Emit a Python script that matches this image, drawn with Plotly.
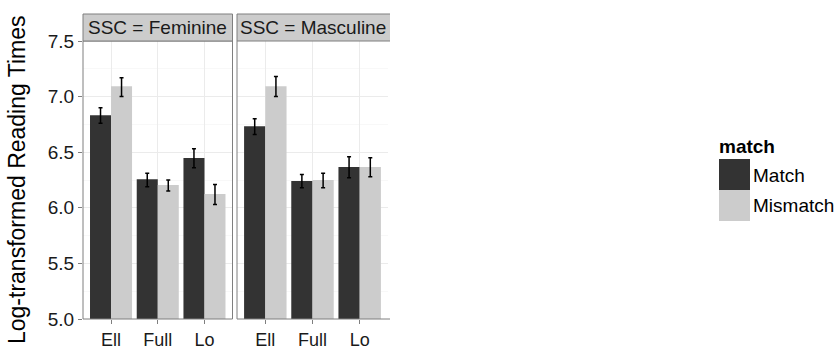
import plotly.graph_objects as go

# ---- data ----
conditions = ["Ell", "Full", "Lo"]
panels = ["SSC = Feminine", "SSC = Masculine"]
match_levels = ["Match", "Mismatch"]

fem_match = [6.833, 6.256, 6.447]
fem_match_lo = [6.76, 6.19, 6.36]
fem_match_hi = [6.90, 6.31, 6.53]
fem_mismatch = [7.093, 6.205, 6.124]
fem_mismatch_lo = [7.00, 6.15, 6.03]
fem_mismatch_hi = [7.17, 6.25, 6.21]

masc_match = [6.734, 6.241, 6.367]
masc_match_lo = [6.66, 6.18, 6.27]
masc_match_hi = [6.80, 6.30, 6.46]
masc_mismatch = [7.093, 6.250, 6.367]
masc_mismatch_lo = [7.00, 6.18, 6.28]
masc_mismatch_hi = [7.18, 6.31, 6.45]

y_ticks = [5.0, 5.5, 6.0, 6.5, 7.0, 7.5]
y_minor = [5.25, 5.75, 6.25, 6.75, 7.25]
y_title = "Log-transformed Reading Times"
legend_title = "match"

# ---- style ----
W, H = 837, 350
FONT = "Liberation Sans, Arial, Helvetica, sans-serif"
DARK = "#333333"
LIGHT = "#CCCCCC"
BORDER = "#7F7F7F"
GRID = "#EBEBEB"
MINOR = "#F8F8F8"

def px_x(p):
    return p / W

def px_y(p):
    return (H - p) / H

p1 = (83, 232.5)
p2 = (237, 388)
top, bottom = 41, 319

fig = go.Figure()

def add_panel(vals_m, lo_m, hi_m, vals_mm, lo_mm, hi_mm, xa, ya):
    for name, vals, lo, hi, col in [
        ("Match", vals_m, lo_m, hi_m, DARK),
        ("Mismatch", vals_mm, lo_mm, hi_mm, LIGHT),
    ]:
        fig.add_trace(go.Bar(
            x=conditions, y=[v - 5.0 for v in vals], base=5.0, name=name,
            marker=dict(color=col, line=dict(width=0)),
            error_y=dict(type="data", symmetric=False,
                         array=[h - v for h, v in zip(hi, vals)],
                         arrayminus=[v - l for v, l in zip(vals, lo)],
                         color="black", thickness=1.5, width=2),
            xaxis=xa, yaxis=ya, showlegend=False,
            offsetgroup=name,
        ))

add_panel(fem_match, fem_match_lo, fem_match_hi,
          fem_mismatch, fem_mismatch_lo, fem_mismatch_hi, "x", "y")
add_panel(masc_match, masc_match_lo, masc_match_hi,
          masc_mismatch, masc_mismatch_lo, masc_mismatch_hi, "x2", "y2")

xcommon = dict(type="category", categoryorder="array", categoryarray=conditions,
               range=[-0.6, 2.6], showgrid=True, gridcolor=GRID, gridwidth=1,
               ticks="outside", ticklen=4, tickcolor=BORDER, tickwidth=1,
               showline=False, zeroline=False, automargin=False,
               tickfont=dict(family=FONT, size=18, color="#1a1a1a"))
ycommon = dict(range=[5.0, 7.5], tickvals=y_ticks,
               showgrid=True, gridcolor=GRID, gridwidth=1,
               minor=dict(tickvals=y_minor, showgrid=True,
                          gridcolor=MINOR, gridwidth=1, ticks=""),
               zeroline=False, showline=False, automargin=False,
               domain=[px_y(bottom), px_y(top)])

fig.update_layout(
    width=W, height=H,
    margin=dict(l=0, r=0, t=0, b=0, pad=0, autoexpand=False),
    paper_bgcolor="white", plot_bgcolor="white",
    barmode="group", bargap=0.1, bargroupgap=0.0,
    xaxis=dict(domain=[px_x(p1[0]), px_x(p1[1])], anchor="y", **xcommon),
    xaxis2=dict(domain=[px_x(p2[0]), px_x(p2[1])], anchor="y2", **xcommon),
    yaxis=dict(anchor="x", ticks="outside", ticklen=4, tickcolor=BORDER,
               tickformat=".1f",
               tickfont=dict(family=FONT, size=19, color="#1a1a1a"), **ycommon),
    yaxis2=dict(anchor="x2", matches="y", showticklabels=False, ticks="", **ycommon),
    showlegend=False,
)

shapes = []
# panel 1 border
shapes.append(dict(type="rect", xref="paper", yref="paper",
                   x0=px_x(p1[0]), x1=px_x(p1[1]), y0=px_y(bottom), y1=px_y(top),
                   line=dict(color=BORDER, width=1), fillcolor="rgba(0,0,0,0)", layer="above"))
# panel 2 border (left, bottom; right is cut off)
shapes.append(dict(type="path", xref="paper", yref="paper",
                   path=f"M {px_x(p2[1]+2)},{px_y(bottom)} L {px_x(p2[0])},{px_y(bottom)} L {px_x(p2[0])},{px_y(top)}",
                   line=dict(color=BORDER, width=1), layer="above"))
# strips
strip_top = 14
shapes.append(dict(type="rect", xref="paper", yref="paper",
                   x0=px_x(p1[0]), x1=px_x(p1[1]), y0=px_y(top), y1=px_y(strip_top),
                   line=dict(color=BORDER, width=1), fillcolor=LIGHT, layer="above"))
shapes.append(dict(type="rect", xref="paper", yref="paper",
                   x0=px_x(p2[0]), x1=px_x(p2[1] + 2), y0=px_y(top), y1=px_y(strip_top),
                   line=dict(width=0), fillcolor=LIGHT, layer="above"))
shapes.append(dict(type="path", xref="paper", yref="paper",
                   path=f"M {px_x(p2[1]+2)},{px_y(strip_top)} L {px_x(p2[0])},{px_y(strip_top)} L {px_x(p2[0])},{px_y(top)} L {px_x(p2[1]+2)},{px_y(top)}",
                   line=dict(color=BORDER, width=1), layer="above"))

# legend keys
shapes.append(dict(type="rect", xref="paper", yref="paper",
                   x0=px_x(719), x1=px_x(750), y0=px_y(190), y1=px_y(159),
                   line=dict(width=0), fillcolor=DARK))
shapes.append(dict(type="rect", xref="paper", yref="paper",
                   x0=px_x(719), x1=px_x(750), y0=px_y(221), y1=px_y(190),
                   line=dict(width=0), fillcolor=LIGHT))

annotations = []
for (a, b), label in zip([p1, p2], panels):
    annotations.append(dict(xref="paper", yref="paper", x=px_x((a + b) / 2), y=px_y((strip_top + top) / 2),
                            text=label, showarrow=False, xanchor="center", yanchor="middle",
                            font=dict(family=FONT, size=19, color="#1a1a1a")))
annotations.append(dict(xref="paper", yref="paper", x=px_x(17), y=px_y(180),
                        text=y_title, textangle=-90, showarrow=False,
                        xanchor="center", yanchor="middle",
                        font=dict(family=FONT, size=23, color="black")))
annotations.append(dict(xref="paper", yref="paper", x=px_x(717), y=px_y(146),
                        text=f"<b>{legend_title}</b>", showarrow=False,
                        xanchor="left", yanchor="middle",
                        font=dict(family=FONT, size=19, color="black")))
for lab, yc in zip(match_levels, [175, 206]):
    annotations.append(dict(xref="paper", yref="paper", x=px_x(751), y=px_y(yc),
                            text=lab, showarrow=False, xanchor="left", yanchor="middle",
                            font=dict(family=FONT, size=19, color="black")))

fig.update_layout(shapes=shapes, annotations=annotations)
fig.write_html("out.html")
